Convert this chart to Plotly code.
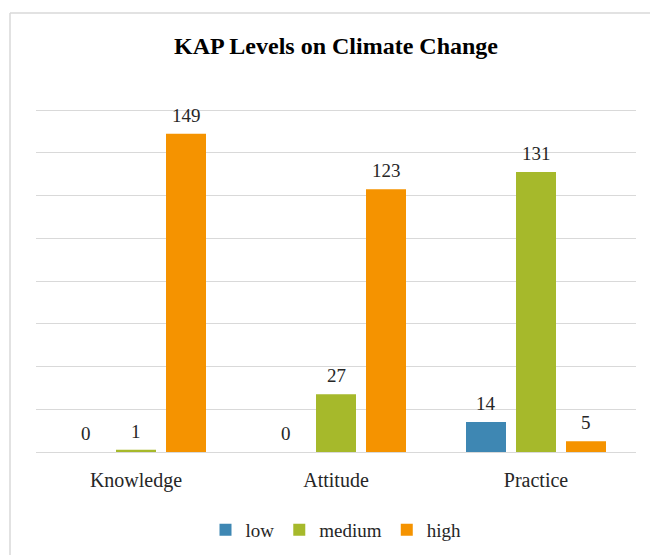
import plotly.graph_objects as go

categories = ["Knowledge", "Attitude", "Practice"]
series_names = ["low", "medium", "high"]
low_values = [0, 0, 14]
medium_values = [1, 27, 131]
high_values = [149, 123, 5]
colors = ["#3E87B3", "#A6B92B", "#F59300"]
y_ticks = [0, 20, 40, 60, 80, 100, 120, 140, 160]

all_values = [low_values, medium_values, high_values]

FONT = "Liberation Serif"

# page has an 8px body margin; figure is sized/offset to compensate
W, H = 650, 547
L, R, T, B = 28, 22, 100, 103
PW, PH = W - L - R, H - T - B

fig = go.Figure()
for name, vals, col in zip(series_names, all_values, colors):
    fig.add_trace(go.Bar(name=name, x=categories, y=vals, marker=dict(color=col, line=dict(width=0))))

annotations = []
slot = 50  # pixel width of each bar slot within group
for i, vals in enumerate(all_values):
    for cat, v in zip(categories, vals):
        annotations.append(dict(
            x=cat, y=v, xref="x", yref="y", text=str(v), showarrow=False,
            xanchor="center", yanchor="bottom", xshift=(i - 1) * slot, yshift=6,
            font=dict(family=FONT, size=19, color="#262626")))

bx = (2 - L) / PW
by = 1 + (T - 5) / PH
fig.update_layout(
    width=W, height=H,
    paper_bgcolor="white", plot_bgcolor="white",
    margin=dict(l=L, r=R, t=T, b=B, autoexpand=False),
    barmode="group", bargap=0.25, bargroupgap=0.2,
    title=dict(text="<b>KAP Levels on Climate Change</b>", x=0.5, xref="paper",
               y=1 - 38 / H, yanchor="middle",
               font=dict(family=FONT, size=24, color="black")),
    legend=dict(orientation="h", x=0.5, xanchor="center",
                yref="container", y=1 - 522 / H, yanchor="middle",
                font=dict(family=FONT, size=19, color="#262626"), itemwidth=30,
                bgcolor="rgba(0,0,0,0)"),
    annotations=annotations,
    shapes=[
        dict(type="line", xref="paper", yref="paper", x0=bx, x1=1 + (R + 10) / PW,
             y0=by, y1=by, line=dict(color="#d9d9d9", width=1.5)),
        dict(type="line", xref="paper", yref="paper", x0=bx, x1=bx,
             y0=by, y1=-(B + 10) / PH, line=dict(color="#d9d9d9", width=1.5)),
    ],
)
fig.update_xaxes(showline=False, ticks="", ticklabelstandoff=14,
                 tickfont=dict(family=FONT, size=20, color="#262626"))
fig.update_yaxes(range=[0, 161], tickvals=y_ticks, showticklabels=False,
                 showgrid=True, gridcolor="#d9d9d9", gridwidth=1,
                 zeroline=True, zerolinecolor="#d9d9d9", zerolinewidth=1)

fig.write_html("out.html")
